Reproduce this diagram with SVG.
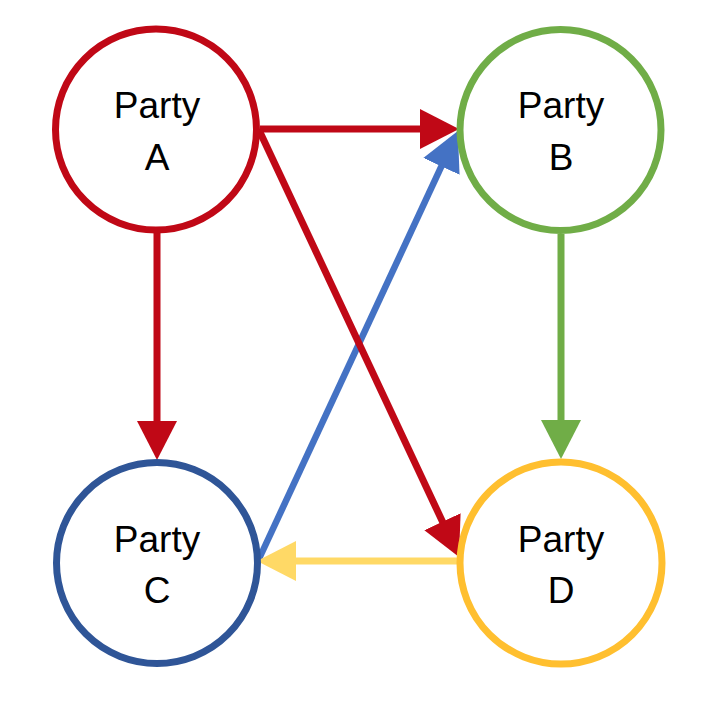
<svg xmlns="http://www.w3.org/2000/svg" width="726" height="726" viewBox="0 0 726 726">
<style>
.node circle{fill:#fff;stroke-width:7}
.node text{font-family:"Liberation Sans",Arial,sans-serif;font-size:37px;fill:#000;text-anchor:middle}
.conn line{fill:none}
</style>
<defs>
<marker id="hRed" markerUnits="userSpaceOnUse" markerWidth="40" markerHeight="42" viewBox="0 -21 40 42" refX="9" refY="0" orient="auto"><path d="M0,-20 L39,0 L0,20 Z" fill="#C00816"/></marker>
<marker id="hGreen" markerUnits="userSpaceOnUse" markerWidth="40" markerHeight="42" viewBox="0 -21 40 42" refX="9" refY="0" orient="auto"><path d="M0,-20 L39,0 L0,20 Z" fill="#70AD47"/></marker>
<marker id="hBlue" markerUnits="userSpaceOnUse" markerWidth="40" markerHeight="42" viewBox="0 -21 40 42" refX="9" refY="0" orient="auto"><path d="M0,-20 L39,0 L0,20 Z" fill="#4472C4"/></marker>
<marker id="hYellow" markerUnits="userSpaceOnUse" markerWidth="40" markerHeight="42" viewBox="0 -21 40 42" refX="9" refY="0" orient="auto"><path d="M0,-20 L39,0 L0,20 Z" fill="#FFD966"/></marker>
</defs>
<rect width="726" height="726" fill="#fff"/>
<g id="connectors" class="conn">
<line x1="258" y1="561" x2="445.2" y2="158.2" stroke="#4472C4" stroke-width="6.5" marker-end="url(#hBlue)"/>
<line x1="460" y1="561" x2="287" y2="561" stroke="#FFD966" stroke-width="7" marker-end="url(#hYellow)"/>
<line x1="260" y1="129" x2="429" y2="129" stroke="#C00816" stroke-width="7" marker-end="url(#hRed)"/>
<line x1="157" y1="233" x2="157" y2="430" stroke="#C00816" stroke-width="7" marker-end="url(#hRed)"/>
<line x1="259" y1="130" x2="446.3" y2="529.8" stroke="#C00816" stroke-width="7" marker-end="url(#hRed)"/>
<line x1="561" y1="234" x2="561" y2="429" stroke="#70AD47" stroke-width="7" marker-end="url(#hGreen)"/>
</g>
<g id="partyA" class="node">
<circle cx="156" cy="129.5" r="100.5" stroke="#C00816"/>
<text x="157" y="118">Party</text>
<text x="157" y="170">A</text>
</g>
<g id="partyB" class="node">
<circle cx="560.5" cy="130" r="100.5" stroke="#70AD47"/>
<text x="561" y="118">Party</text>
<text x="561" y="170">B</text>
</g>
<g id="partyC" class="node">
<circle cx="157" cy="563" r="100.5" stroke="#2F5597"/>
<text x="157" y="552">Party</text>
<text x="157" y="603">C</text>
</g>
<g id="partyD" class="node">
<circle cx="561" cy="563" r="101" stroke="#FFBF2F"/>
<text x="561" y="552">Party</text>
<text x="561" y="603">D</text>
</g>
</svg>
